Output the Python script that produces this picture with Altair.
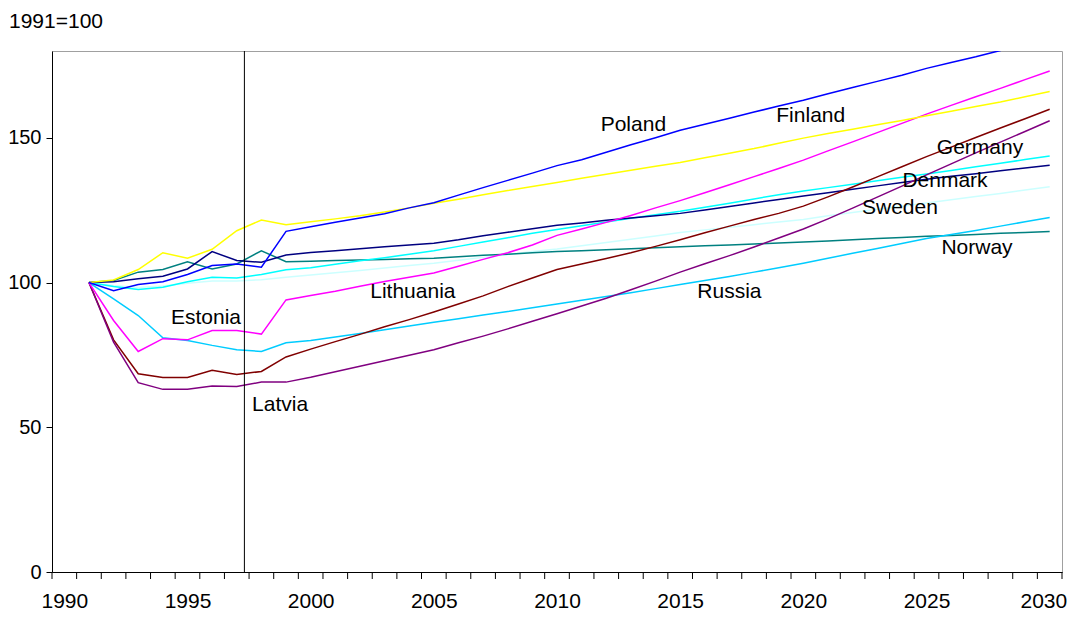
import altair as alt
import pandas as pd

years = list(range(1991, 2031))

poland = [100, 97.2, 99.3, 100.3, 102.8, 105.9, 106.4, 105.3, 117.7, 119.3,
          120.8, 122.3, 123.8, 125.8, 127.6, 130.2, 132.8, 135.3, 137.8, 140.4,
          142.4, 145.0, 147.6, 150.0, 152.6, 154.7, 156.8, 158.9, 161.0, 163.0,
          165.2, 167.4, 169.5, 171.6, 174.0, 176.0, 178.0, 180.2, 182.4, 184.6]
finland = [100, 100.9, 104.5, 110.3, 108.4, 111.5, 117.9, 121.6, 120.0, 121.0,
           122.0, 123.1, 124.4, 125.8, 127.4, 128.8, 130.3, 131.8, 133.2, 134.6,
           136.0, 137.4, 138.8, 140.2, 141.5, 143.1, 144.7, 146.3, 148.1, 149.9,
           151.5, 153.0, 154.5, 156.0, 157.6, 159.2, 160.8, 162.4, 164.2, 166.0]
lithuania = [100, 86.9, 76.2, 80.6, 80.2, 83.4, 83.4, 82.2, 94.0, 95.5,
             97.0, 98.7, 100.4, 101.8, 103.3, 105.6, 108.0, 110.3, 113.0, 116.3,
             118.5, 120.8, 123.2, 125.8, 128.3, 131.0, 133.8, 136.6, 139.4, 142.3,
             145.5, 148.6, 151.8, 155.0, 158.2, 161.2, 164.2, 167.1, 170.1, 173.1]
estonia = [100, 80.2, 68.5, 67.2, 67.2, 69.7, 68.2, 69.3, 74.3, 77.0,
           79.6, 82.1, 84.7, 87.2, 89.8, 92.6, 95.4, 98.6, 101.6, 104.5,
           106.4, 108.3, 110.3, 112.5, 114.8, 117.2, 119.5, 121.8, 123.9, 126.4,
           129.6, 133.0, 136.5, 140.0, 143.5, 146.8, 150.1, 153.4, 156.6, 159.9]
latvia = [100, 79.4, 65.4, 63.1, 63.1, 64.3, 64.1, 65.6, 65.6, 67.3,
          69.2, 71.1, 73.0, 74.9, 76.8, 79.2, 81.5, 84.0, 86.6, 89.2,
          91.9, 94.6, 97.5, 100.5, 103.6, 106.5, 109.3, 112.3, 115.4, 118.5,
          122.0, 125.7, 129.5, 133.3, 137.2, 141.0, 144.8, 148.5, 152.2, 155.9]
russia = [100, 94.4, 88.6, 80.9, 80.0, 78.3, 76.8, 76.2, 79.2, 80.0,
          81.2, 82.4, 83.7, 85.0, 86.3, 87.5, 88.8, 90.0, 91.3, 92.6,
          93.9, 95.2, 96.5, 97.9, 99.3, 100.7, 102.1, 103.6, 105.1, 106.7,
          108.4, 110.1, 111.8, 113.5, 115.2, 116.6, 118.0, 119.5, 121.0, 122.5]
germany = [100, 98.6, 97.6, 98.4, 100.3, 101.8, 101.6, 102.8, 104.4, 105.1,
           106.3, 107.5, 108.6, 109.8, 111.0, 112.5, 114.0, 115.5, 117.0, 118.3,
           119.6, 120.9, 122.2, 123.4, 124.6, 126.0, 127.4, 128.9, 130.3, 131.6,
           132.8, 134.0, 135.2, 136.4, 137.5, 138.7, 140.0, 141.2, 142.5, 143.7]
denmark = [100, 100.3, 101.3, 102.2, 104.7, 110.7, 107.6, 107.0, 109.5, 110.4,
           111.0, 111.7, 112.4, 113.0, 113.6, 114.8, 116.2, 117.4, 118.6, 119.8,
           120.6, 121.5, 122.3, 123.1, 123.9, 125.1, 126.3, 127.5, 128.7, 129.9,
           131.0, 132.2, 133.4, 134.6, 135.7, 136.7, 137.6, 138.6, 139.6, 140.5]
sweden = [100, 99.0, 98.3, 98.8, 99.8, 100.5, 100.5, 101.0, 101.8, 102.6,
          103.4, 104.2, 105.0, 105.9, 106.7, 107.7, 108.7, 109.7, 110.7, 111.6,
          112.7, 113.8, 115.0, 116.1, 117.3, 118.2, 119.1, 120.0, 120.9, 121.8,
          123.1, 124.2, 125.3, 126.4, 127.5, 128.6, 129.7, 130.8, 132.0, 133.1]
norway = [100, 100.7, 103.6, 104.5, 107.2, 104.7, 106.4, 111.0, 107.2, 107.4,
          107.6, 107.8, 108.0, 108.2, 108.4, 108.9, 109.4, 109.8, 110.3, 110.7,
          111.0, 111.3, 111.7, 112.0, 112.4, 112.7, 113.0, 113.3, 113.7, 114.0,
          114.4, 114.8, 115.2, 115.6, 116.0, 116.3, 116.6, 117.0, 117.3, 117.6]

countries = ["Sweden", "Norway", "Germany", "Denmark", "Russia", "Estonia",
             "Latvia", "Lithuania", "Finland", "Poland"]
series = [sweden, norway, germany, denmark, russia, estonia,
          latvia, lithuania, finland, poland]
colors = ["#CCFFFF", "#008080", "#00FFFF", "#000080", "#00CCFF", "#800000",
          "#800080", "#FF00FF", "#FFFF00", "#0000FF"]

label_names = ["Poland", "Finland", "Lithuania", "Estonia", "Latvia",
               "Russia", "Germany", "Denmark", "Sweden", "Norway"]
label_years = [2013.1, 2020.3, 2004.15, 1995.75, 1998.76,
               2017.0, 2027.17, 2025.75, 2023.92, 2027.05]
label_values = [154.5, 157.6, 96.6, 87.6, 57.6,
                96.6, 146.6, 135.2, 125.9, 112.1]

vline_year = [1997.31]
unit_title = ["1991=100"]

x_boundaries = [1989.5 + i for i in range(42)]
x_labels = list(range(1990, 2031, 5))
y_ticks = [0, 50, 100, 150]

rows = []
for name, vals in zip(countries, series):
    for yr, v in zip(years, vals):
        rows.append({"country": name, "year": yr, "value": v, "order": countries.index(name)})
df = pd.DataFrame(rows)

FONT = "Liberation Sans"
PLOT_H = 521

x_scale = alt.Scale(domain=[1989.5, 2030.5], nice=False, zero=False)
y_scale = alt.Scale(domain=[0, 180], nice=False)

x_axis = alt.Axis(
    values=x_labels, format="d", ticks=False,
    title=None, grid=False, labelPadding=18,
    labelFontSize=21, labelFont=FONT, labelColor="black",
    domainColor="black",
    labelAlign={"condition": {"test": "datum.value >= 2030", "value": "right"}, "value": "center"},
    labelOffset={"condition": {"test": "datum.value >= 2030", "value": 17}, "value": 0},
)
y_axis = alt.Axis(
    values=y_ticks, title=None, grid=False, tickSize=6, labelPadding=5,
    labelFontSize=20, labelFont=FONT, labelColor="black",
    tickColor="black", domainColor="black",
)

lines = alt.Chart(df).mark_line(strokeWidth=1.5, clip=True).encode(
    x=alt.X("year:Q", scale=x_scale, axis=x_axis),
    y=alt.Y("value:Q", scale=y_scale, axis=y_axis),
    color=alt.Color("country:N", scale=alt.Scale(domain=countries, range=colors), legend=None),
    order=alt.Order("order:Q"),
    detail="country:N",
)

# category-boundary tick marks below the x axis
cat_ticks = alt.Chart(pd.DataFrame({"year": x_boundaries})).mark_rule(
    color="black", strokeWidth=1
).encode(
    x=alt.X("year:Q", scale=x_scale),
    y=alt.value(PLOT_H),
    y2=alt.value(PLOT_H + 7),
)

vline = alt.Chart(pd.DataFrame({"year": vline_year})).mark_rule(
    color="black", strokeWidth=1
).encode(x=alt.X("year:Q", scale=x_scale))

labels = alt.Chart(pd.DataFrame({
    "name": label_names, "year": label_years, "value": label_values
})).mark_text(font=FONT, fontSize=21, color="black", align="center", baseline="middle").encode(
    x=alt.X("year:Q", scale=x_scale),
    y=alt.Y("value:Q", scale=y_scale),
    text="name:N",
)

title_text = alt.Chart(pd.DataFrame({"t": unit_title})).mark_text(
    font=FONT, fontSize=21, color="black", align="left", baseline="alphabetic"
).encode(x=alt.value(-43), y=alt.value(-23), text="t:N")

chart = alt.layer(lines, cat_ticks, vline, labels, title_text).properties(
    width=1010,
    height=PLOT_H,
    autosize=alt.AutoSizeParams(type="none"),
    padding={"left": 44, "top": 43, "right": 5, "bottom": 38},
).configure_view(stroke="#a0a0a0", strokeWidth=1)

chart.save("out.html", embed_options={"renderer": "svg", "actions": False})
